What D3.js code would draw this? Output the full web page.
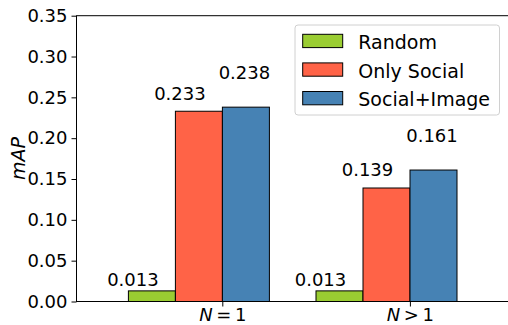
<!DOCTYPE html>
<html>
<head>
<meta charset="utf-8">
<script src="https://cdn.jsdelivr.net/npm/d3@7"></script>
<style>
  html, body { margin: 0; padding: 0; background: #fff; }
  svg { display: block; font-family: "DejaVu Sans", sans-serif; }
</style>
</head>
<body>
<svg id="chart" width="508" height="325"></svg>
<script>
// ---- data ----
const groups = ["N=1", "N>1"];
const groupRel = ["=", ">"];
const seriesNames = ["Random", "Only Social", "Social+Image"];
const seriesColors = ["#9acd32", "#ff6347", "#4682b4"];
const valuesRandom = [0.013, 0.013];
const valuesOnlySocial = [0.233, 0.139];
const valuesSocialImage = [0.238, 0.161];
const yTicks = [0.00, 0.05, 0.10, 0.15, 0.20, 0.25, 0.30, 0.35];

const seriesValues = [valuesRandom, valuesOnlySocial, valuesSocialImage];

(function () {
// ---- layout ----
const svg = d3.select("#chart");
const pLeft = 76.5, pTop = 15.7, pBottom = 301.5, pRight = 520;
const fs = 18;

const y = d3.scaleLinear().domain([0, 0.35]).range([pBottom, pTop]);
const x0 = d3.scaleBand().domain(groups).range([129, 504.2]).padding(0);
// group tick sits at the boundary between 2nd and 3rd bar
const x1 = d3.scaleBand().domain(seriesNames).range([-94.4, 46.6]).padding(0);

// bars
const g = svg.append("g");
groups.forEach((grp, gi) => {
  const cx = x0(grp) + x0.bandwidth() / 2;
  seriesNames.forEach((s, si) => {
    const v = seriesValues[si][gi];
    g.append("rect")
      .attr("x", cx + x1(s))
      .attr("y", y(v))
      .attr("width", x1.bandwidth())
      .attr("height", y(0) - y(v))
      .attr("fill", seriesColors[si])
      .attr("stroke", "#000")
      .attr("stroke-width", 1);
  });
});

// value labels
const labelDx = [-19, -19, -1.5];
const labelDy = [5, 11.5, 28.5];
groups.forEach((grp, gi) => {
  const cx = x0(grp) + x0.bandwidth() / 2;
  seriesNames.forEach((s, si) => {
    const v = seriesValues[si][gi];
    svg.append("text")
      .attr("x", cx + x1(s) + x1.bandwidth() / 2 + labelDx[si])
      .attr("y", y(v) - labelDy[si])
      .attr("text-anchor", "middle")
      .attr("font-size", fs)
      .attr("fill", "#000")
      .text(v.toFixed(3));
  });
});

// y axis
const yAxis = d3.axisLeft(y).tickValues(yTicks).tickFormat(d3.format(".2f")).tickSize(5).tickPadding(4);
const ya = svg.append("g").attr("transform", `translate(${pLeft},0)`).call(yAxis);
ya.select(".domain").remove();
ya.selectAll("text").attr("font-size", fs).attr("font-family", "DejaVu Sans").attr("fill", "#000");
ya.selectAll("line").attr("stroke", "#000").attr("stroke-width", 1);

// x axis
const xa = svg.append("g").attr("transform", `translate(0,${pBottom})`);
groups.forEach((grp, gi) => {
  const cx = x0(grp) + x0.bandwidth() / 2;
  xa.append("line").attr("x1", cx).attr("x2", cx).attr("y1", 0).attr("y2", 5).attr("stroke", "#000");
  const t = xa.append("text").attr("x", cx).attr("y", 19.5).attr("text-anchor", "middle")
    .attr("font-size", fs).attr("fill", "#000");
  t.append("tspan").attr("font-style", "italic").text("N");
  t.append("tspan").text("\u2009" + groupRel[gi] + "\u20091");
});

// spines
svg.append("rect").attr("x", pLeft).attr("y", pTop).attr("width", pRight - pLeft).attr("height", pBottom - pTop)
  .attr("fill", "none").attr("stroke", "#000").attr("stroke-width", 1);

// y label
svg.append("text")
  .attr("transform", `translate(25,158.4) rotate(-90)`)
  .attr("text-anchor", "middle")
  .attr("font-size", 19)
  .attr("font-style", "italic")
  .attr("fill", "#000")
  .text("mAP");

// legend
const lg = svg.append("g");
lg.append("rect").attr("x", 295).attr("y", 25).attr("width", 204.5).attr("height", 90)
  .attr("rx", 3).attr("fill", "rgba(255,255,255,0.8)").attr("stroke", "#d0d0d0").attr("stroke-width", 1);
seriesNames.forEach((s, si) => {
  const ry = 34.3 + si * 28.6;
  lg.append("rect").attr("x", 302.7).attr("y", ry).attr("width", 40).attr("height", 13.3)
    .attr("fill", seriesColors[si]).attr("stroke", "#000").attr("stroke-width", 1);
  lg.append("text").attr("x", 358.3).attr("y", ry + 14.7).attr("font-size", 19).attr("fill", "#000").text(s);
});
})();
</script>
</body>
</html>
